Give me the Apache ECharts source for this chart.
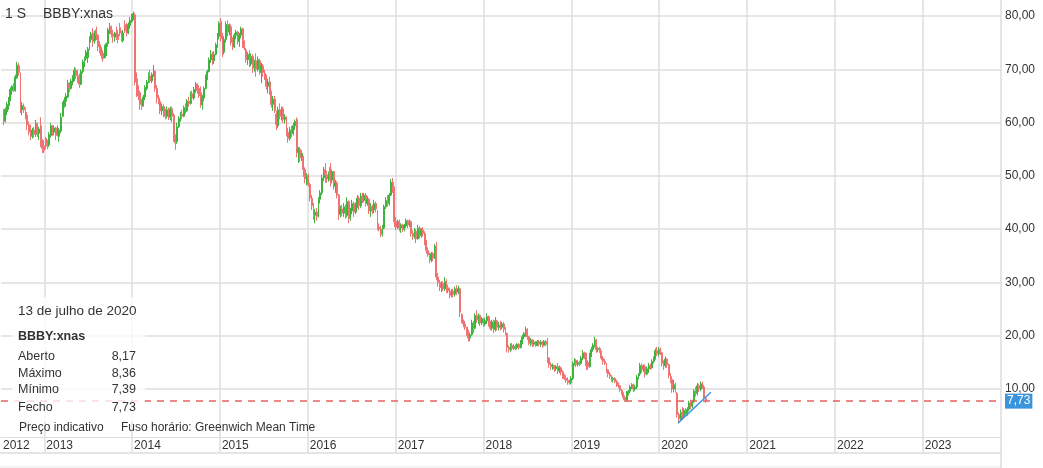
<!DOCTYPE html>
<html>
<head>
<meta charset="utf-8">
<script src="https://cdn.jsdelivr.net/npm/echarts@6/dist/echarts.min.js"></script>
<style>html,body{margin:0;padding:0;background:#fff}#c{width:1043px;height:468px}</style>
</head>
<body>
<div id="c"></div>
<script>
// ---- data ----
const lastWeek = '2020-07-13';           // date of the last weekly candle
const xStart = '2012-07-05';
const xEnd = '2023-11-22';
const yearTicks = [2013,2014,2015,2016,2017,2018,2019,2020,2021,2022,2023];
const yTicks = [10,20,30,40,50,60,70,80];
const lastClose = 7.73;
const trendLine = [['2020-03-19', 3.6], ['2020-08-03', 9.4]];
const infoDate = '13 de julho de 2020';
const infoRows = [['Aberto','8,17'],['Máximo','8,36'],['Mínimo','7,39'],['Fecho','7,73']];
// weekly [open, close, low, high]
const ohlc = [
[62.4,60.2,59.5,62.6],[60.4,62.4,60.0,62.8],[62.0,63.4,61.4,63.9],[63.2,64.4,62.4,64.8],[64.4,66.2,64.0,66.6],[66.0,66.8,65.2,67.0],[66.8,66.0,65.7,67.4],[66.0,68.6,65.8,69.0],[68.4,70.8,68.2,71.4],[70.6,69.4,68.8,71.2],
[69.0,62.4,61.8,69.4],[62.4,63.2,61.4,63.9],[63.0,62.4,61.8,63.6],[62.4,61.2,60.6,62.8],[61.4,59.6,58.6,62.0],[59.6,58.2,57.6,60.2],[58.4,57.4,56.7,59.6],[57.6,58.6,57.0,59.0],[58.6,57.8,57.2,59.2],[57.8,59.8,57.3,60.5],
[59.6,58.0,57.3,60.0],[58.0,58.8,56.7,59.2],[59.4,56.6,55.4,61.0],[56.6,55.2,54.3,56.9],[55.6,54.8,54.3,56.7],[57.0,55.8,55.0,57.3],[56.0,55.6,55.0,56.8],[55.8,57.8,55.4,58.2],[57.6,59.4,57.2,59.9],[59.0,58.2,57.5,59.5],
[58.2,59.0,57.6,59.5],[59.0,57.6,56.7,59.2],[57.6,58.8,57.4,59.5],[57.4,58.6,56.4,59.0],[58.4,61.0,58.0,61.8],[61.2,63.4,61.0,63.9],[63.2,64.2,62.8,64.8],[64.0,65.0,63.0,65.5],[64.8,67.4,64.6,68.0],[67.2,66.4,65.7,67.6],
[66.4,67.8,66.2,68.2],[67.6,68.4,67.0,68.9],[68.4,69.8,67.8,70.4],[69.8,68.8,68.2,70.2],[68.8,68.0,67.4,69.9],[68.2,67.2,66.5,69.2],[67.2,69.6,67.0,70.0],[69.6,71.4,69.2,71.8],[71.2,72.0,70.4,72.4],[72.0,73.2,71.6,73.6],
[72.2,73.8,71.2,74.2],[73.8,75.8,73.6,76.2],[75.6,76.6,75.0,77.0],[76.8,75.2,74.2,77.7],[75.4,76.6,74.8,77.2],[77.4,76.4,75.5,78.0],[76.4,74.2,73.4,76.6],[74.6,73.6,73.0,75.3],[74.0,72.6,72.0,74.2],[73.0,72.0,71.4,73.6],
[72.2,74.2,72.0,74.6],[74.0,74.8,72.5,75.0],[74.8,77.4,74.2,77.8],[77.2,78.0,76.6,78.7],[78.0,76.6,76.0,78.2],[76.6,76.2,75.0,77.4],[76.0,76.8,75.2,77.0],[77.4,76.0,75.5,78.0],[76.6,75.6,74.9,77.4],[77.8,76.8,76.2,78.7],
[76.8,75.8,75.2,77.2],[75.4,76.8,75.0,77.4],[78.4,77.2,76.8,79.2],[77.8,76.8,76.2,78.7],[76.8,78.4,76.6,78.8],[78.2,79.2,77.6,79.8],[79.0,80.0,78.7,80.4],[79.8,80.4,79.2,80.8],[80.2,67.6,67.0,80.6],[68.2,66.0,64.8,69.4],
[66.2,65.0,64.2,67.0],[65.6,63.4,62.4,66.0],[63.4,63.0,62.4,64.4],[63.2,64.8,63.0,65.2],[64.8,66.6,64.2,67.0],[66.4,67.6,66.0,68.0],[67.6,68.8,67.4,69.4],[68.8,67.8,67.4,69.9],[67.8,69.0,67.4,69.4],[69.0,70.4,68.6,70.8],
[69.6,66.4,65.8,69.8],[66.4,64.6,63.6,67.0],[64.6,64.0,63.4,65.2],[64.0,62.2,61.6,64.2],[62.2,63.0,61.4,63.6],[63.0,61.8,61.0,63.4],[61.8,61.2,60.6,62.6],[61.2,62.4,60.8,63.0],[62.4,61.0,60.5,62.8],[61.0,62.6,60.4,63.0],
[62.6,61.2,60.0,63.0],[61.4,57.0,56.4,61.8],[57.0,56.2,54.9,57.8],[56.4,59.2,56.0,60.0],[59.2,60.8,59.0,61.2],[60.8,61.6,60.2,62.0],[61.6,61.2,60.6,62.4],[61.2,62.8,61.0,63.2],[62.8,62.2,61.6,63.6],[62.2,64.0,62.0,64.4],
[64.0,63.6,63.0,64.8],[63.6,65.4,63.4,65.8],[65.4,64.6,64.0,66.0],[64.6,66.2,64.2,66.7],[66.2,67.2,65.6,67.6],[67.2,66.0,65.4,67.4],[66.4,65.0,64.6,67.0],[65.6,63.4,62.8,66.8],[63.4,64.6,62.4,65.2],[64.6,66.4,64.0,66.8],
[66.4,68.6,66.2,69.0],[68.6,69.6,68.0,69.9],[69.6,71.8,69.4,72.2],[71.8,72.8,71.2,73.6],[72.8,71.6,70.8,73.2],[71.6,72.8,71.0,73.4],[72.8,74.6,72.6,75.0],[74.6,76.2,74.0,76.8],[76.2,78.6,75.6,79.0],[79.0,75.8,75.2,79.6],
[76.2,73.2,72.3,76.8],[73.2,75.6,72.8,76.0],[75.6,78.4,75.0,79.0],[78.4,77.0,76.2,79.2],[77.0,78.2,76.4,78.6],[78.0,75.0,74.4,78.4],[75.0,74.2,73.6,76.0],[74.2,76.4,74.0,76.8],[76.4,77.0,75.6,77.4],[77.0,75.2,74.6,77.2],
[75.2,76.4,74.2,76.8],[76.4,77.6,75.8,78.0],[77.6,74.6,74.0,77.8],[74.6,74.0,73.6,75.4],[73.6,71.8,71.2,74.0],[71.8,72.8,70.8,73.2],[72.8,71.0,70.4,73.6],[71.0,72.4,70.6,73.0],[72.4,70.2,69.3,72.8],[70.2,71.2,69.6,71.8],
[71.6,70.0,68.6,73.0],[70.0,71.8,69.6,72.4],[71.6,69.6,69.0,72.0],[69.4,70.6,67.4,71.2],[70.6,69.4,68.6,71.0],[69.2,68.6,68.0,69.9],[68.6,66.8,66.2,69.0],[66.8,67.6,65.5,68.2],[67.6,65.8,65.2,68.6],[65.8,63.4,62.8,66.0],
[63.4,64.4,62.2,65.0],[64.4,62.2,61.8,65.0],[61.6,59.6,58.6,62.2],[59.4,62.4,59.0,63.0],[62.4,61.2,60.6,63.6],[61.2,62.6,60.4,63.0],[62.6,60.6,59.9,63.0],[60.6,61.0,59.8,61.6],[61.0,58.2,57.4,61.2],[58.2,57.0,56.2,59.0],
[57.0,58.6,56.6,59.2],[58.6,58.0,57.3,59.4],[58.0,59.4,57.6,60.0],[59.4,60.2,58.6,60.6],[60.6,54.4,53.5,61.0],[54.4,55.0,52.4,55.4],[55.0,53.4,52.6,55.4],[53.4,54.2,52.8,54.8],[53.6,51.2,49.8,53.8],[51.2,49.4,48.6,51.6],
[49.4,50.0,48.2,50.5],[50.0,48.4,48.0,50.4],[48.4,45.8,45.2,48.7],[45.8,44.4,43.6,46.4],[44.4,42.6,41.8,44.9],[42.6,43.2,41.1,43.8],[43.2,42.4,41.6,44.0],[42.4,45.6,42.2,46.0],[45.6,46.8,44.8,47.3],[46.8,49.6,46.4,50.2],
[49.6,51.2,49.0,51.7],[51.2,50.2,48.7,52.4],[50.2,49.4,48.7,51.0],[49.4,50.4,48.9,50.8],[51.6,49.2,48.0,52.4],[49.2,50.8,48.6,51.2],[50.8,48.0,47.4,50.5],[48.0,48.6,46.8,49.2],[48.6,46.4,45.8,49.0],[46.4,42.8,41.7,46.6],
[42.8,43.8,42.2,44.4],[43.8,43.0,42.4,44.6],[43.0,44.2,42.3,44.9],[44.2,42.6,42.0,44.6],[42.6,45.2,42.2,46.0],[45.2,42.0,41.1,45.4],[42.0,43.4,41.6,44.0],[43.4,44.8,42.8,45.5],[44.8,43.2,42.3,45.2],[43.2,44.6,42.8,45.0],
[44.6,45.8,44.0,46.4],[45.8,44.4,43.6,46.2],[44.4,46.2,44.0,46.8],[46.2,45.4,44.9,46.8],[45.4,46.4,45.0,46.8],[46.4,44.8,44.2,46.8],[44.8,45.6,44.4,46.2],[45.6,43.4,42.8,45.8],[43.4,44.2,42.3,44.9],[44.2,43.6,42.8,44.6],
[43.6,44.8,43.0,45.5],[44.8,43.8,43.2,45.2],[43.4,40.4,39.8,43.6],[40.4,40.0,39.6,41.1],[40.0,39.0,38.5,40.6],[39.0,40.2,38.6,40.8],[40.2,44.2,40.0,44.6],[44.2,45.4,43.8,46.0],[45.4,44.8,44.2,46.4],[44.8,46.4,44.4,46.8],
[46.4,48.8,46.2,49.4],[48.8,47.6,46.8,49.6],[47.6,41.4,40.4,48.0],[41.4,40.4,39.8,42.3],[40.4,41.4,40.0,41.8],[41.4,40.2,39.6,41.8],[40.2,40.8,39.3,41.1],[40.8,40.0,39.4,41.0],[40.0,40.6,39.6,41.0],[40.6,41.6,40.2,42.0],
[41.6,40.8,40.2,41.8],[40.8,41.4,40.4,41.8],[41.4,39.2,38.6,41.6],[39.2,38.6,38.0,39.8],[38.6,39.6,38.2,40.2],[39.6,38.2,37.4,40.0],[38.2,40.2,38.0,40.8],[40.2,38.8,38.2,40.6],[38.8,39.8,38.4,40.2],[39.8,39.2,38.6,40.4],
[39.2,37.6,37.0,39.6],[37.6,36.0,35.4,38.0],[36.0,35.2,34.8,36.6],[35.2,34.2,33.6,35.6],[34.2,35.4,33.8,35.7],[35.4,34.6,34.0,35.7],[34.8,36.8,34.4,37.2],[36.8,31.0,30.4,37.6],[31.0,30.0,29.2,31.8],[30.0,29.0,28.4,30.5],
[29.0,29.8,28.2,30.2],[29.8,28.8,28.4,30.2],[28.8,30.2,28.4,31.0],[30.2,29.0,28.0,30.6],[29.0,28.4,28.0,29.6],[28.4,27.6,27.0,29.0],[27.6,28.4,27.2,28.8],[28.4,27.8,27.2,28.8],[27.8,28.8,27.3,29.2],[28.8,28.2,27.6,29.5],
[28.2,28.8,27.8,29.4],[28.8,24.4,23.5,29.0],[24.0,23.0,22.4,24.2],[23.0,22.2,21.6,23.0],[22.2,21.6,21.1,22.8],[21.6,20.6,20.0,21.6],[20.6,19.6,18.9,21.1],[19.6,20.2,19.0,20.6],[20.2,22.4,20.0,23.0],[22.4,21.4,20.5,22.8],
[21.4,23.8,21.2,24.2],[23.8,23.0,22.4,24.8],[23.0,23.8,22.2,24.2],[23.8,22.4,21.8,24.0],[22.4,23.2,22.0,23.5],[23.2,22.2,21.7,23.4],[22.2,22.8,21.8,23.2],[22.8,23.6,22.2,24.2],[23.6,22.4,21.7,23.8],[22.4,21.4,21.0,22.8],
[21.4,22.6,21.0,23.0],[22.6,21.2,20.5,23.0],[21.2,22.8,20.8,23.5],[22.8,21.6,21.0,23.0],[21.6,22.0,21.0,22.6],[22.0,21.6,21.0,22.8],[21.6,22.2,21.2,22.6],[22.2,21.2,20.6,22.6],[21.2,20.6,20.1,21.6],[20.4,17.8,16.9,20.6],
[17.8,17.4,16.8,18.2],[17.4,18.2,17.0,18.6],[18.2,17.6,17.2,18.6],[17.6,18.0,17.3,18.4],[18.0,17.8,17.3,18.4],[17.8,18.4,17.4,18.6],[18.4,17.8,17.4,18.6],[17.8,18.8,17.6,19.2],[18.8,19.8,18.4,20.2],[19.8,20.4,19.4,20.7],
[20.4,21.2,19.8,21.7],[21.2,19.8,19.2,21.4],[19.8,18.6,18.2,20.0],[18.6,19.2,18.0,19.6],[19.2,18.4,17.9,19.4],[18.4,18.8,18.0,19.2],[18.8,18.2,17.9,19.0],[18.2,18.9,18.0,19.2],[18.9,18.4,18.0,19.2],[18.4,18.8,17.9,19.2],
[18.8,18.2,17.7,19.0],[18.2,18.9,18.0,19.2],[18.9,18.4,18.0,19.2],[19.0,15.8,14.9,19.6],[15.8,14.6,14.0,16.0],[14.6,14.2,13.6,15.0],[14.2,14.4,13.6,14.8],[14.4,13.8,13.2,14.5],[13.8,14.2,13.4,14.5],[14.2,13.4,12.8,14.9],
[13.4,14.0,13.0,14.4],[14.0,13.2,12.6,14.2],[13.2,12.4,11.9,13.6],[12.4,12.0,11.7,12.8],[12.0,11.6,11.2,12.6],[11.6,11.4,10.8,12.2],[11.4,11.2,10.8,11.8],[11.2,12.0,10.9,12.4],[12.0,14.8,11.7,15.2],[14.8,15.4,14.4,15.8],
[15.4,14.6,14.1,15.6],[14.6,15.0,14.2,15.4],[15.0,14.8,14.3,15.3],[14.8,15.8,14.6,16.2],[15.8,16.8,15.4,17.3],[16.8,16.0,15.6,17.0],[16.2,14.4,13.6,16.8],[15.0,14.2,13.6,15.4],[14.2,16.4,14.0,16.8],[16.4,17.4,16.0,17.9],
[17.4,18.2,17.0,18.6],[18.2,19.2,17.8,19.8],[19.2,17.4,16.8,19.4],[17.4,17.6,16.9,17.9],[17.6,17.0,16.8,17.9],[17.0,15.8,15.4,17.2],[15.8,15.2,14.6,16.2],[15.2,14.8,14.5,15.6],[14.8,13.6,13.0,14.9],[13.6,12.8,12.2,13.8],
[12.8,12.4,11.9,13.2],[12.4,11.8,11.4,12.6],[11.8,12.0,11.2,12.3],[12.0,11.4,11.1,12.2],[11.4,10.8,10.4,11.7],[10.8,10.6,10.2,11.2],[10.6,9.8,9.4,10.8],[9.8,9.2,8.9,10.0],[9.2,8.4,7.9,9.4],[8.4,7.9,7.6,8.8],
[7.9,9.2,7.6,9.6],[9.2,9.6,8.8,9.8],[9.6,10.4,9.2,10.8],[10.4,10.8,10.0,11.1],[10.8,10.0,9.4,11.0],[10.0,10.4,9.6,10.8],[10.4,12.2,10.0,12.6],[12.2,12.8,11.8,13.0],[12.8,14.4,12.4,14.9],[14.4,13.6,13.0,14.8],
[13.6,14.2,13.2,14.6],[14.2,12.8,12.2,14.6],[12.8,13.8,12.6,14.2],[13.8,14.4,13.0,14.9],[14.4,14.0,13.6,14.8],[14.0,15.2,13.8,15.6],[15.2,15.8,14.8,16.1],[15.8,17.2,15.5,17.6],[17.2,16.6,16.2,17.9],[16.6,17.4,16.1,17.9],
[17.4,16.8,16.4,17.8],[16.8,14.8,14.2,17.0],[14.8,14.4,13.6,15.4],[14.4,15.6,14.0,16.1],[15.6,14.6,14.0,15.8],[14.6,12.6,12.0,14.8],[12.6,11.8,11.1,13.0],[11.8,10.0,9.3,12.4],[10.0,10.8,9.4,11.7],[10.8,9.8,9.3,11.2],
[9.2,5.2,4.6,9.4],[5.2,4.4,3.8,5.6],[4.4,5.6,4.0,6.2],[5.6,5.0,4.2,6.6],[5.0,6.0,4.6,6.4],[6.0,5.4,4.8,6.4],[5.4,6.2,5.0,6.6],[6.2,7.4,5.8,7.8],[7.4,6.8,6.2,8.0],[6.8,7.6,6.4,8.0],
[7.6,9.6,7.4,10.0],[9.6,9.2,8.6,10.4],[9.2,10.6,8.8,11.1],[10.6,10.0,9.4,11.0],[10.0,11.0,9.6,11.4],[11.0,10.4,10.0,11.4],[10.4,8.2,8.0,10.8],[8.17,7.73,7.39,8.36]
];

// ---- build ----
const DAY = 86400000;
const t = s => Date.parse(s + 'T00:00:00Z');
const lastT = t(lastWeek);
const n = ohlc.length;
const candles = ohlc.map((v, i) => [lastT - (n - 1 - i) * 7 * DAY, v[0], v[1], v[2], v[3]]);
const yearVals = yearTicks.map(y => Date.UTC(y, 0, 1));
const FONT = '"Liberation Sans", Arial, sans-serif';
const TXT = '#333333';
const GRID = '#dedede';

const chart = echarts.init(document.getElementById('c'), null, {renderer: 'canvas'});
chart.setOption({
  animation: false,
  backgroundColor: '#ffffff',
  grid: {left: 0, right: 42, top: 0, bottom: 31, containLabel: false},
  xAxis: {
    type: 'value',
    min: t(xStart), max: t(xEnd),
    axisLine: {show: true, lineStyle: {color: '#dddddd', width: 1}},
    axisTick: {show: true, customValues: yearVals, length: 16, inside: false, lineStyle: {color: GRID, width: 1.5}},
    axisLabel: {
      customValues: [t(xStart)].concat(yearVals),
      formatter: v => String(new Date(v).getUTCFullYear()),
      align: 'left', margin: 3, padding: [0, 0, 0, 2],
      showMinLabel: true, showMaxLabel: true,
      color: TXT, fontSize: 12, fontFamily: FONT
    },
    splitLine: {show: true, lineStyle: {color: GRID, width: 1.5}}
  },
  yAxis: {
    type: 'value',
    position: 'right',
    min: 1, max: 83,
    axisLine: {show: true, lineStyle: {color: '#dddddd', width: 1.5}},
    axisTick: {show: false, customValues: yTicks},
    axisLabel: {
      customValues: yTicks,
      formatter: v => v.toFixed(2).replace('.', ','),
      margin: 4, color: TXT, fontSize: 12, fontFamily: FONT
    },
    splitLine: {show: true, lineStyle: {color: GRID, width: 1.5}}
  },
  series: [
    {
      type: 'candlestick',
      data: candles,
      encode: {x: 0, y: [1, 2, 3, 4]},
      barWidth: 1.4,
      itemStyle: {
        color: '#0f9f0f', borderColor: '#3db53d',
        color0: '#ec3434', borderColor0: '#f07373',
        borderWidth: 1
      },
      markLine: {
        silent: true,
        symbol: ['none', 'none'],
        data: [{yAxis: lastClose}],
        lineStyle: {color: '#e8625c', type: [7, 6], width: 1.5},
        label: {
          show: true, position: 'end', distance: 4,
          formatter: () => lastClose.toFixed(2).replace('.', ','),
          backgroundColor: '#3a94dd', color: '#ffffff',
          padding: [2, 2, 1, 2], fontSize: 12, fontFamily: FONT
        }
      }
    },
    {
      type: 'line',
      data: trendLine.map(p => [t(p[0]), p[1]]),
      showSymbol: false, symbol: 'none',
      lineStyle: {color: '#3f97e0', width: 1.5},
      z: 5
    }
  ],
  graphic: [
    {type: 'line', shape: {x1: 0, y1: 453, x2: 1001, y2: 453}, style: {stroke: '#dddddd', lineWidth: 1.5}, z: 10},
    {type: 'line', shape: {x1: 0, y1: 467, x2: 1001, y2: 467}, style: {stroke: '#e6e6e6', lineWidth: 1}, z: 10},
    {type: 'line', shape: {x1: 1001, y1: 437, x2: 1001, y2: 468}, style: {stroke: '#dddddd', lineWidth: 1.5}, z: 10},
    {type: 'text', left: 5, top: 7, style: {text: '1 S', font: '14px ' + FONT, fill: TXT}, z: 20},
    {type: 'text', left: 43, top: 7, style: {text: 'BBBY:xnas', font: '14px ' + FONT, fill: TXT}, z: 20},
    {type: 'rect', shape: {x: 12, y: 297, width: 133, height: 125}, style: {fill: 'rgba(255,255,255,0.78)'}, z: 15},
    {type: 'text', x: 18, y: 311, style: {text: infoDate, font: '13.5px ' + FONT, fill: TXT, verticalAlign: 'middle'}, z: 20},
    {type: 'text', x: 18, y: 337, style: {text: 'BBBY:xnas', font: 'bold 12.5px ' + FONT, fill: TXT, verticalAlign: 'middle'}, z: 20}
  ].concat(infoRows.flatMap((r, i) => {
    const ys = [357, 374, 390, 408];
    return [
      {type: 'text', x: 18, y: ys[i], style: {text: r[0], font: '12.5px ' + FONT, fill: TXT, verticalAlign: 'middle'}, z: 20},
      {type: 'text', x: 136, y: ys[i], style: {text: r[1], font: '12.5px ' + FONT, fill: TXT, align: 'right', verticalAlign: 'middle'}, z: 20}
    ];
  })).concat([
    {type: 'text', x: 19, y: 428, style: {text: 'Preço indicativo', font: '12px ' + FONT, fill: TXT, verticalAlign: 'middle'}, z: 20},
    {type: 'text', x: 121, y: 428, style: {text: 'Fuso horário: Greenwich Mean Time', font: '12px ' + FONT, fill: TXT, verticalAlign: 'middle'}, z: 20}
  ])
});
</script>
</body>
</html>
